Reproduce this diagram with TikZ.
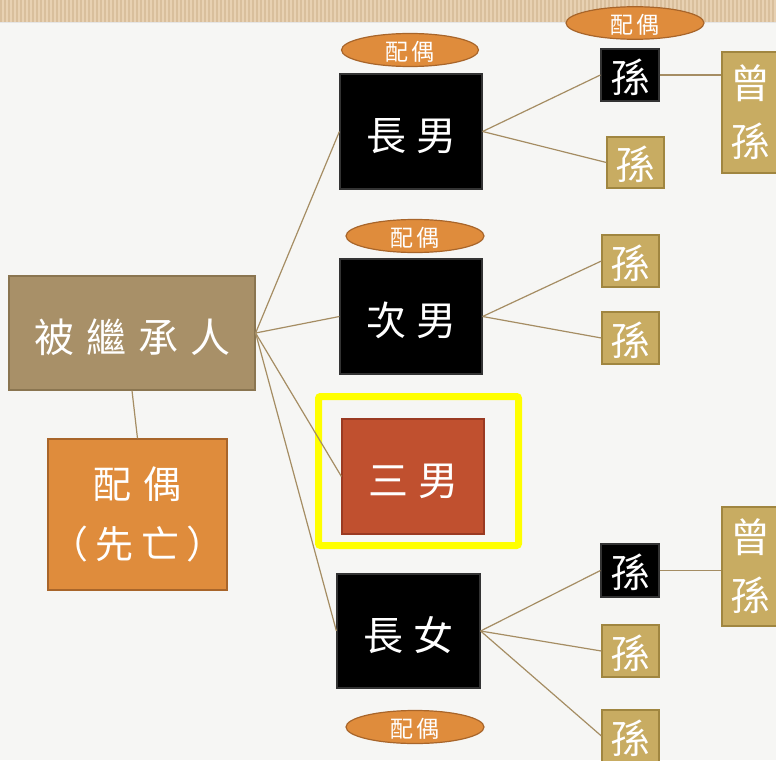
\documentclass[tikz,border=0pt]{standalone}
\usepackage{fontspec}
\newfontfamily\cjk{Noto Sans CJK TC}
\definecolor{bg}{HTML}{F6F6F4}
\definecolor{band}{HTML}{E8D1B2}
\definecolor{bandline}{HTML}{D9BF9C}
\definecolor{heirfill}{HTML}{A89068}
\definecolor{heirdraw}{HTML}{8A7550}
\definecolor{orfill}{HTML}{DF8C3C}
\definecolor{ordraw}{HTML}{A8652A}
\definecolor{redfill}{HTML}{C0502F}
\definecolor{reddraw}{HTML}{9A3A22}
\definecolor{tanfill}{HTML}{C8AC62}
\definecolor{tandraw}{HTML}{A08640}
\definecolor{link}{HTML}{A58D63}
\definecolor{hilite}{HTML}{FFFF00}
\tikzset{
  box/.style={rectangle, inner sep=0pt, text=white, line width=1.2pt},
  heirbox/.style={box, fill=heirfill, draw=heirdraw},
  orbox/.style={box, fill=orfill, draw=ordraw},
  blackbox/.style={box, fill=black, draw=black!80},
  redbox/.style={box, fill=redfill, draw=reddraw},
  tanbox/.style={box, fill=tanfill, draw=tandraw},
  spouse/.style={ellipse, inner sep=0pt, fill=orfill, draw=ordraw, line width=1.2pt, text=white,
    font=\cjk\fontsize{23}{26}\selectfont, text height=22.2pt, text depth=0.8pt},
  big/.style={font=\cjk\fontsize{40}{48}\selectfont, text height=39.2pt, text depth=0.8pt},
  small/.style={font=\cjk\fontsize{40}{48}\selectfont, text height=37.2pt, text depth=2.8pt},
  conn/.style={draw=link, line width=1.2pt},
  frame/.style={rectangle, draw=hilite, line width=7pt, rounded corners=2pt, inner sep=0pt}
}
\usetikzlibrary{shapes.geometric}
\begin{document}
\begin{tikzpicture}[x=1pt,y=-1pt]
\useasboundingbox (0,0) rectangle (776,760);
\fill[bg] (0,0) rectangle (776,760);
\fill[band] (0,0) rectangle (776,22);
\foreach \i in {1,5,...,776} \draw[bandline, line width=1.3pt] (\i,0) -- (\i,22);
\fill[black!10] (0,22) rectangle (776,23.5);

% generation 0
\node[heirbox, big, minimum width=246pt, minimum height=114pt] (heir) at (132,333) {被\kern12pt 繼\kern12pt 承\kern12pt 人};
\node[orbox, font=\cjk\fontsize{38}{60}\selectfont, align=center, minimum width=179pt, minimum height=151pt] (sp0) at (137.5,514.5) {配\kern12pt 偶\\（\kern7pt 先\kern8pt 亡\kern7pt ）};

% children
\node[blackbox, big, minimum width=142pt, minimum height=115pt] (s1) at (411,131.5) {長\kern10pt 男};
\node[blackbox, big, minimum width=142pt, minimum height=115pt] (s2) at (411,316.5) {次\kern10pt 男};
\node[frame, minimum width=200pt, minimum height=149pt] (hl) at (418.5,471) {};
\node[redbox, big, minimum width=142pt, minimum height=115pt] (s3) at (413,476.5) {三\kern10pt 男};
\node[blackbox, big, minimum width=143pt, minimum height=114pt] (s4) at (408.5,631) {長\kern10pt 女};

% spouses of children
\node[spouse, minimum width=137pt, minimum height=33pt] (e1) at (410,50) {配\kern3pt 偶};
\node[spouse, minimum width=138pt, minimum height=33pt] (e2) at (415,236) {配\kern3pt 偶};
\node[spouse, minimum width=138pt, minimum height=33pt] (e4) at (415,727) {配\kern3pt 偶};

% grandchildren
\node[spouse, minimum width=138pt, minimum height=32pt] (e11) at (635,23) {配\kern3pt 偶};
\node[blackbox, small, minimum width=58pt, minimum height=52pt] (g11) at (630,75) {孫};
\node[tanbox, small, minimum width=57pt, minimum height=51pt] (g12) at (635.5,162.5) {孫};
\node[tanbox, small, minimum width=57pt, minimum height=52pt] (g21) at (630.5,261) {孫};
\node[tanbox, small, minimum width=57pt, minimum height=52pt] (g22) at (630.5,338) {孫};
\node[blackbox, small, minimum width=58pt, minimum height=53pt] (g41) at (630,570.5) {孫};
\node[tanbox, small, minimum width=57pt, minimum height=52pt] (g42) at (630.5,651) {孫};
\node[tanbox, small, minimum width=57pt, minimum height=52pt] (g43) at (630.5,736) {孫};

% great-grandchildren
\node[tanbox, font=\cjk\fontsize{40}{58}\selectfont, align=center, minimum width=56pt, minimum height=121pt] (gg1) at (750,112.5) {曾\\孫};
\node[tanbox, font=\cjk\fontsize{40}{58}\selectfont, align=center, minimum width=56pt, minimum height=119pt] (gg4) at (750,566.5) {曾\\孫};

% connectors
\draw[conn] (heir.south) -- (sp0.north);
\draw[conn] (heir.east) -- (s1.west);
\draw[conn] (heir.east) -- (s2.west);
\draw[conn] (heir.east) -- (s3.west);
\draw[conn] (heir.east) -- (s4.west);
\draw[conn] (s1.east) -- (g11.west);
\draw[conn] (s1.east) -- (g12.west);
\draw[conn] (s2.east) -- (g21.west);
\draw[conn] (s2.east) -- (g22.west);
\draw[conn] (s4.east) -- (g41.west);
\draw[conn] (s4.east) -- (g42.west);
\draw[conn] (s4.east) -- (g43.west);
\draw[conn] (g11.east) -- (g11.east -| gg1.west);
\draw[conn] (g41.east) -- (g41.east -| gg4.west);
\end{tikzpicture}
\end{document}
